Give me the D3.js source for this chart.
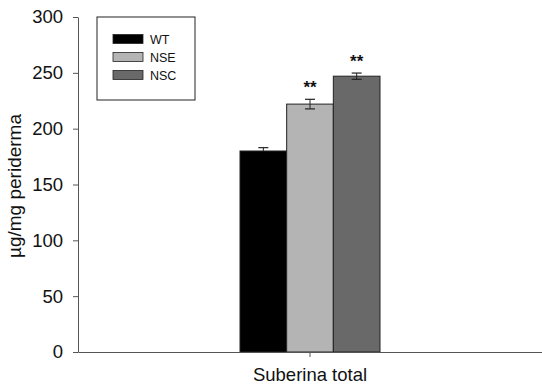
<!DOCTYPE html>
<html>
<head>
<meta charset="utf-8">
<script src="https://cdn.jsdelivr.net/npm/d3@7"></script>
<style>
  html, body { margin: 0; padding: 0; background: #fff; }
  svg { display: block; font-family: "Liberation Sans", Arial, sans-serif; }
</style>
</head>
<body>
<svg id="chart" width="542" height="385"></svg>
<script>
// Suberin content per genotype
const categories = ["Suberina total"];
const series = ["WT", "NSE", "NSC"];
const values = [180, 222, 247];
const errors = [3, 4.3, 2.8];
const significance = ["", "**", "**"];
const colors = ["#000000", "#b4b4b4", "#696969"];
const yTicks = [0, 50, 100, 150, 200, 250, 300];

const svg = d3.select("#chart");
const margin = { left: 78, right: 0, top: 17, bottom: 33 };
const width = 542, height = 385;

const y = d3.scaleLinear().domain([0, 300]).range([height - margin.bottom, margin.top]);
const x = d3.scaleBand().domain(categories).range([margin.left, width - margin.right]);
const groupWidth = 140;
const xs = d3.scaleBand().domain(series).range([0, groupWidth]).padding(0);

const g = svg.append("g");

// Bars with error bars and significance marks
const grp = g.selectAll("g.cat").data(categories).join("g")
  .attr("transform", d => `translate(${x(d) + x.bandwidth() / 2 - groupWidth / 2},0)`);

series.forEach((s, i) => {
  grp.append("rect")
    .attr("x", xs(s))
    .attr("y", y(values[i]))
    .attr("width", xs.bandwidth())
    .attr("height", y(0) - y(values[i]))
    .attr("fill", colors[i])
    .attr("stroke", "#222")
    .attr("stroke-width", 1);

  const cx = xs(s) + xs.bandwidth() / 2;
  const top = y(values[i] + errors[i]);
  const bot = y(values[i] - errors[i]);
  grp.append("line").attr("x1", cx).attr("x2", cx).attr("y1", top).attr("y2", i === 0 ? y(values[i]) : bot)
    .attr("stroke", "#222").attr("stroke-width", 1);
  grp.append("line").attr("x1", cx - 5).attr("x2", cx + 5).attr("y1", top).attr("y2", top)
    .attr("stroke", "#222").attr("stroke-width", 1.2);
  if (i !== 0) {
    grp.append("line").attr("x1", cx - 5).attr("x2", cx + 5).attr("y1", bot).attr("y2", bot)
      .attr("stroke", "#222").attr("stroke-width", 1.2);
  }
  if (significance[i]) {
    grp.append("text")
      .attr("x", cx)
      .attr("y", top - 6)
      .attr("text-anchor", "middle")
      .attr("font-size", 17)
      .attr("font-weight", "bold")
      .attr("fill", "#111")
      .text(significance[i]);
  }
});

// Y axis
const yAxis = d3.axisLeft(y).tickValues(yTicks).tickSize(5).tickPadding(10).tickSizeOuter(0);
const ya = g.append("g").attr("transform", `translate(${margin.left},0)`).call(yAxis);
ya.select(".domain").attr("stroke", "#555");
ya.selectAll(".tick line").attr("stroke", "#555");
ya.selectAll(".tick text").attr("font-size", 18.5).attr("fill", "#111")
  .attr("font-family", "'Liberation Sans', Arial, sans-serif");

// X axis
const xAxis = d3.axisBottom(x).tickSize(5).tickSizeOuter(0).tickPadding(12);
const xa = g.append("g").attr("transform", `translate(0,${y(0)})`).call(xAxis);
xa.select(".domain").attr("stroke", "#555");
xa.selectAll(".tick line").attr("stroke", "#555");
xa.selectAll(".tick text")
  .attr("font-size", 18.5).attr("fill", "#111")
  .attr("font-family", "'Liberation Sans', Arial, sans-serif")
  .attr("dy", null)
  .attr("y", 28.5);

// Y axis title
svg.append("text")
  .attr("transform", `translate(21,186) rotate(-90)`)
  .attr("text-anchor", "middle")
  .attr("font-size", 19)
  .attr("fill", "#111")
  .text("µg/mg periderma");

// Legend
const legend = svg.append("g").attr("transform", "translate(97,17)");
legend.append("rect").attr("width", 98).attr("height", 83)
  .attr("fill", "#fff").attr("stroke", "#222").attr("stroke-width", 1);
series.forEach((s, i) => {
  const row = legend.append("g").attr("transform", `translate(16,${17.5 + i * 18})`);
  row.append("rect").attr("width", 30).attr("height", 9)
    .attr("fill", colors[i]).attr("stroke", "#222").attr("stroke-width", 0.8);
  row.append("text").attr("x", 37).attr("y", 9.5).attr("font-size", 12.5).attr("fill", "#111").text(s);
});
</script>
</body>
</html>
